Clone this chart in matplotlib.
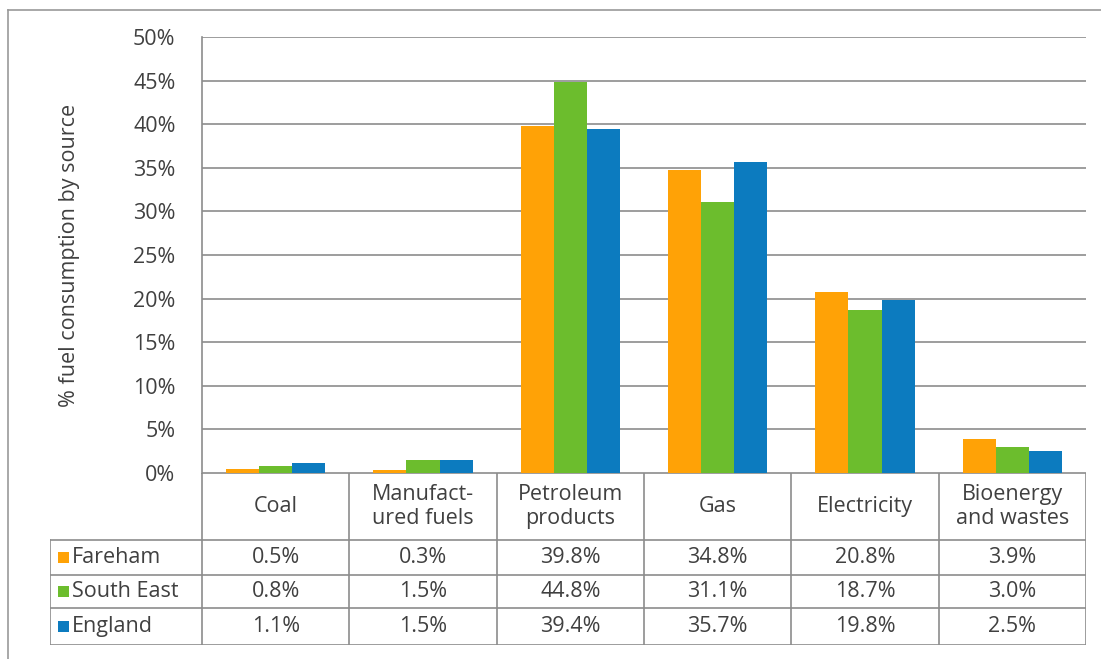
import matplotlib.pyplot as plt
from matplotlib.patches import Rectangle
import numpy as np

categories = ["Coal", "Manufact-\nured fuels", "Petroleum\nproducts", "Gas",
              "Electricity", "Bioenergy\nand wastes"]
series = ["Fareham", "South East", "England"]
fareham = [0.5, 0.3, 39.8, 34.8, 20.8, 3.9]
south_east = [0.8, 1.5, 44.8, 31.1, 18.7, 3.0]
england = [1.1, 1.5, 39.4, 35.7, 19.8, 2.5]
yticks = [0, 5, 10, 15, 20, 25, 30, 35, 40, 45, 50]

colors = ["#FFA206", "#6CBD2D", "#0C7BBF"]
txt = "#404040"
grid = "#8c8c8c"
fs = 15.5
plt.rcParams['font.family'] = ['Open Sans', 'DejaVu Sans']

W, H = 1101, 659
fig = plt.figure(figsize=(W / 100, H / 100), dpi=100)

def fx(px):
    return px / W

def fy(py):
    return 1 - py / H

# outer frame
fig.add_artist(plt.Line2D([fx(8), fx(8)], [fy(10), fy(659)], color="#999999", lw=1.2))
fig.add_artist(plt.Line2D([fx(8), fx(1101)], [fy(10), fy(10)], color="#999999", lw=1.2))

# bar axes
x0, x1, ytop, ybot = 202, 1086, 37, 473
ax = fig.add_axes([fx(x0), fy(ybot), fx(x1) - fx(x0), fy(ytop) - fy(ybot)])
x = np.arange(len(categories))
bw = 0.225
data = [fareham, south_east, england]
for i, vals in enumerate(data):
    ax.bar(x + (i - 1) * bw, vals, bw, color=colors[i], zorder=3)
ax.set_xlim(-0.5, len(categories) - 0.5)
ax.set_ylim(0, 50)
ax.set_yticks(yticks)
ax.set_yticklabels([f"{v}%" for v in yticks], fontsize=fs, color=txt)
ax.tick_params(axis="y", length=0, pad=19)
ax.set_xticks([])
ax.yaxis.grid(True, color=grid, lw=1.2, zorder=0)
for s in ["top", "right", "bottom"]:
    ax.spines[s].set_visible(False)
ax.spines["left"].set_color(grid)
ax.spines["left"].set_linewidth(1.2)
ax.set_ylabel("% fuel consumption by source", fontsize=fs, color=txt, labelpad=38)

# data table
tl = 50
cw = (x1 - x0) / len(categories)
rows_y = [473, 540, 575, 608, 645]
tab = fig.add_axes([fx(tl), fy(645), fx(x1) - fx(tl), fy(473) - fy(645)])
lead = (x0 - tl) / cw
tab.set_xlim(-lead - 0.5, len(categories) - 0.5)
tab.set_ylim(645, 473)
tab.axis("off")
lc = dict(color=grid, lw=1.2)
# horizontal lines
tab.plot([-0.5, len(categories) - 0.5], [rows_y[0]] * 2, **lc)
for ry in rows_y[1:]:
    tab.plot([-lead - 0.5, len(categories) - 0.5], [ry, ry], **lc)
# vertical lines
tab.plot([-lead - 0.5] * 2, [rows_y[1], rows_y[-1]], **lc)
for k in range(len(categories) + 1):
    tab.plot([k - 0.5] * 2, [rows_y[0], rows_y[-1]], **lc)
for k, c in enumerate(categories):
    tab.text(k, (rows_y[0] + rows_y[1]) / 2, c, ha="center", va="center",
             fontsize=fs, color=txt, linespacing=1.15)
for i, (name, vals) in enumerate(zip(series, data)):
    yc = (rows_y[i + 1] + rows_y[i + 2]) / 2
    tab.add_patch(Rectangle((-lead - 0.5 + 0.055, yc - 5.5), 0.075, 11, color=colors[i], lw=0))
    tab.text(-lead - 0.5 + 0.15, yc, name, ha="left", va="center", fontsize=fs, color=txt)
    for k, v in enumerate(vals):
        tab.text(k, yc, f"{v:.1f}%", ha="center", va="center", fontsize=fs, color=txt)

fig.savefig("out.png", dpi=100)
